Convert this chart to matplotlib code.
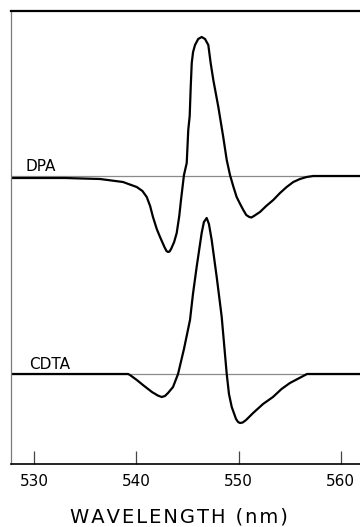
import matplotlib.pyplot as plt

# wavelength (nm) and signal relative to each trace's baseline (arb. units)
dpa_wl = [527.75, 533.0, 536.45, 538.70, 540.04, 540.60, 541.02, 541.35, 541.63,
          542.00, 542.32, 542.75, 542.95, 543.10, 543.25, 543.40, 543.70, 543.95,
          544.20, 544.37, 544.66, 544.93, 545.08, 545.22, 545.32, 545.42, 545.55,
          545.74, 546.05, 546.39, 546.72, 547.04, 547.27, 547.53, 548.02, 548.50,
          548.84, 549.16, 549.50, 549.81, 550.15, 550.46, 550.75, 551.05, 551.25,
          551.50, 552.09, 552.70, 553.39, 554.05, 554.70, 555.35, 556.00, 556.65,
          557.30, 561.87]
dpa_sig = [-2, -2, -3, -6, -11, -15, -21, -30, -41,
           -53, -61, -71, -75, -76, -75.5, -73, -66, -57,
           -40, -24, 1, 13, 46, 60, 89, 113, 124,
           131, 137, 139, 137, 131, 113, 96, 69, 39,
           16, 1, -11, -21, -28, -34, -39, -41, -41.5,
           -40, -36, -30, -24, -17, -11, -6, -3, -1,
           0, 0]

cdta_wl = [527.75, 539.20, 539.38, 540.05, 540.65, 541.53, 542.10, 542.48, 542.80,
           543.10, 543.59, 544.08, 544.66, 545.25, 545.54, 545.90, 546.39, 546.61,
           546.88, 547.10, 547.37, 547.86, 548.18, 548.35, 548.84, 549.06, 549.33,
           549.75, 549.95, 550.14, 550.40, 550.73, 551.42, 552.39, 553.36, 554.20,
           555.02, 556.69, 561.87]
cdta_sig = [0, 0, -1, -6, -11, -18, -21.5, -23, -22,
            -19, -13, 0, 25, 54, 80, 107, 141, 152,
            156, 150, 134, 97, 71, 57, 0, -20, -33,
            -45, -48, -49, -48.5, -46, -39, -30, -23, -15,
            -9, 0, 0]

traces = ["DPA", "CDTA"]
baselines = [288, 90]
xticks = [530, 540, 550, 560]

fig = plt.figure(figsize=(3.6, 5.27), dpi=100)
ax = fig.add_axes([11 / 360, 63 / 527, 349 / 360, 453 / 527])

for name, wl, sig, base, lx in zip(traces, [dpa_wl, cdta_wl], [dpa_sig, cdta_sig],
                                   baselines, [529.12, 529.51]):
    ax.axhline(base, color="#8a8a8a", lw=0.9, zorder=1)
    ax.plot(wl, [base + s for s in sig], color="black", lw=1.6,
            solid_joinstyle="round", zorder=2)
    ax.text(lx, base + 5, name, fontsize=11, ha="left", va="baseline")

ax.set_xlim(527.75, 561.87)
ax.set_ylim(0, 453)
ax.set_yticks([])
ax.set_xticks(xticks)
ax.set_xticklabels([str(t) for t in xticks], fontsize=11)
ax.tick_params(axis="x", direction="in", length=9.5, width=0.9, color="#444444", pad=7)

ax.spines["right"].set_visible(False)
ax.spines["top"].set_linewidth(1.6)
ax.spines["bottom"].set_linewidth(1.2)
ax.spines["left"].set_color("#7a7a7a")
ax.spines["left"].set_linewidth(0.9)

label = "\u200a".join("WAVELENGTH") + "\u2009 (\u200an\u200am\u200a)"
fig.text(179 / 360, 1 - 517 / 527, label, fontsize=14, ha="center", va="center")

fig.savefig("out.png", dpi=100)
